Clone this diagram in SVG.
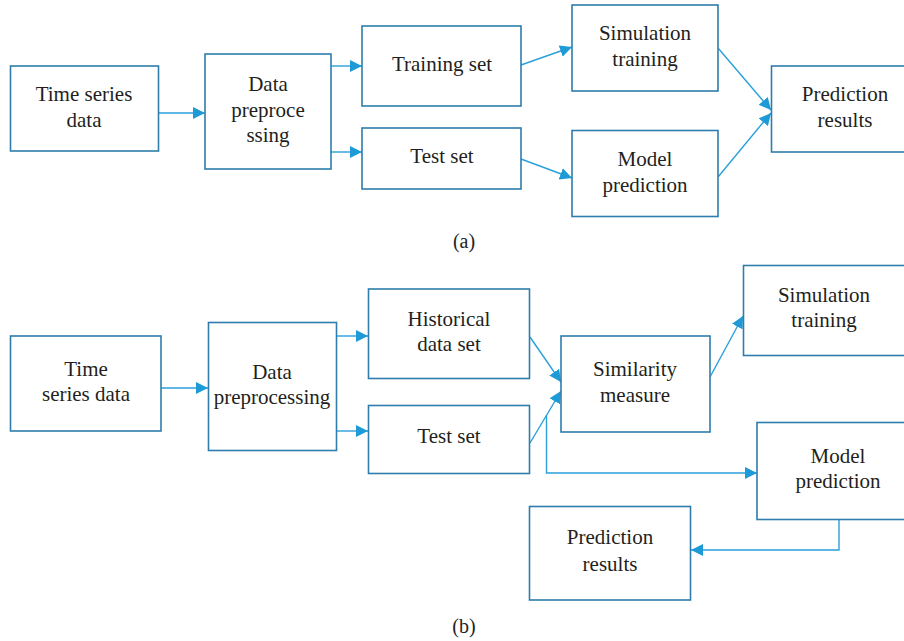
<svg xmlns="http://www.w3.org/2000/svg" width="904" height="641" viewBox="0 0 904 641">
<style>
.box{fill:#fff;stroke:#2f7dac;stroke-width:1.6}
.lbl{font-family:"Liberation Serif","Times New Roman",serif;font-size:21px;fill:#231f20;text-anchor:middle}
.cap{font-family:"Liberation Serif","Times New Roman",serif;font-size:20px;fill:#231f20;text-anchor:middle}
.con{fill:none;stroke:#2aa0da;stroke-width:1.4}
</style>
<defs>
<marker id="ah" markerUnits="userSpaceOnUse" markerWidth="12" markerHeight="12" refX="12" refY="6" orient="auto">
<path d="M0,0 L12,6 L0,12 z" fill="#1e9bd7"/>
</marker>
</defs>
<rect width="904" height="641" fill="#fff"/>
<g id="connectors">
<line class="con" x1="158" y1="113" x2="205" y2="113" marker-end="url(#ah)"/>
<line class="con" x1="331" y1="66" x2="362" y2="66" marker-end="url(#ah)"/>
<line class="con" x1="331" y1="152" x2="362" y2="152" marker-end="url(#ah)"/>
<line class="con" x1="521" y1="65" x2="572" y2="47" marker-end="url(#ah)"/>
<line class="con" x1="521" y1="159" x2="572" y2="178" marker-end="url(#ah)"/>
<line class="con" x1="718" y1="48" x2="771" y2="110" marker-end="url(#ah)"/>
<line class="con" x1="718" y1="177" x2="771" y2="113" marker-end="url(#ah)"/>
<line class="con" x1="161" y1="388" x2="208" y2="388" marker-end="url(#ah)"/>
<line class="con" x1="336" y1="336" x2="368" y2="336" marker-end="url(#ah)"/>
<line class="con" x1="336" y1="431" x2="368" y2="431" marker-end="url(#ah)"/>
<line class="con" x1="530" y1="337" x2="561" y2="382" marker-end="url(#ah)"/>
<line class="con" x1="530" y1="443" x2="561" y2="391" marker-end="url(#ah)"/>
<line class="con" x1="710" y1="377" x2="743" y2="316" marker-end="url(#ah)"/>
<polyline class="con" points="546.5,415 546.5,473 757,473" marker-end="url(#ah)"/>
<polyline class="con" points="839,520 839,550 691,550" marker-end="url(#ah)"/>
</g>
<g id="a-timeseries"><rect class="box" x="10.5" y="66" width="148" height="85"/><text class="lbl" x="84" y="101">Time series</text><text class="lbl" x="84" y="127">data</text></g>
<g id="a-preprocessing"><rect class="box" x="205" y="54" width="126" height="115"/><text class="lbl" x="268" y="91">Data</text><text class="lbl" x="268" y="117">preproce</text><text class="lbl" x="268" y="142">ssing</text></g>
<g id="a-training"><rect class="box" x="362" y="26" width="159" height="80"/><text class="lbl" x="442" y="71">Training set</text></g>
<g id="a-test"><rect class="box" x="362" y="128" width="159" height="61"/><text class="lbl" x="442" y="163">Test set</text></g>
<g id="a-simulation"><rect class="box" x="572" y="5" width="146" height="86"/><text class="lbl" x="645" y="40">Simulation</text><text class="lbl" x="645" y="66">training</text></g>
<g id="a-model"><rect class="box" x="572" y="130.5" width="146" height="86"/><text class="lbl" x="645" y="166">Model</text><text class="lbl" x="645" y="192">prediction</text></g>
<g id="a-results"><rect class="box" x="771.5" y="66" width="140" height="86"/><text class="lbl" x="845" y="101">Prediction</text><text class="lbl" x="845" y="127">results</text></g>
<text class="cap" x="464" y="248">(a)</text>
<g id="b-timeseries"><rect class="box" x="10.5" y="336" width="150.5" height="95"/><text class="lbl" x="86" y="376">Time</text><text class="lbl" x="86" y="401">series data</text></g>
<g id="b-preprocessing"><rect class="box" x="208.5" y="322.5" width="128" height="128"/><text class="lbl" x="272" y="379">Data</text><text class="lbl" x="272" y="404">preprocessing</text></g>
<g id="b-historical"><rect class="box" x="368.5" y="289" width="161" height="89.5"/><text class="lbl" x="449" y="326">Historical</text><text class="lbl" x="449" y="351">data set</text></g>
<g id="b-test"><rect class="box" x="368.5" y="405.5" width="161" height="68"/><text class="lbl" x="449" y="443">Test set</text></g>
<g id="b-similarity"><rect class="box" x="561" y="336" width="149" height="96"/><text class="lbl" x="635" y="376">Similarity</text><text class="lbl" x="635" y="402">measure</text></g>
<g id="b-simulation"><rect class="box" x="743.5" y="265.5" width="170" height="90"/><text class="lbl" x="824" y="302">Simulation</text><text class="lbl" x="824" y="327">training</text></g>
<g id="b-model"><rect class="box" x="757" y="422.5" width="157" height="97"/><text class="lbl" x="838" y="463">Model</text><text class="lbl" x="838" y="488">prediction</text></g>
<g id="b-results"><rect class="box" x="529.5" y="506.5" width="161" height="93.5"/><text class="lbl" x="610" y="544">Prediction</text><text class="lbl" x="610" y="571">results</text></g>
<text class="cap" x="464" y="633">(b)</text>
</svg>
